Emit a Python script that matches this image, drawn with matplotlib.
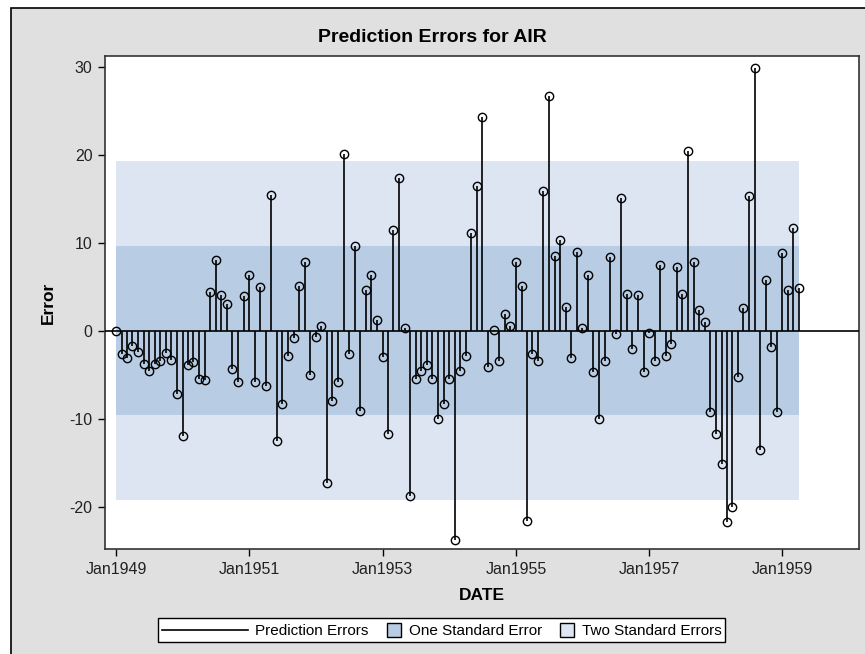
import matplotlib
matplotlib.use("Agg")
import matplotlib.pyplot as plt
import matplotlib.dates as mdates
from matplotlib.patches import Rectangle, Patch
from matplotlib.lines import Line2D
from matplotlib.legend_handler import HandlerLine2D, HandlerPatch
import pandas as pd
import numpy as np

plt.rcParams['font.family'] = ['Liberation Sans', 'DejaVu Sans']
plt.rcParams['axes.unicode_minus'] = False

start_month = "1949-01-01"
errors = [
    -0.1, -2.65, -3.15, -1.8, -2.4, -3.8, -4.55, -3.8, -3.4, -2.55, -3.3, -7.25,
    -12.0, -3.9, -3.6, -5.45, -5.6, 4.4, 8.05, 4.0, 3.0, -4.4, -5.8, 3.9,
    6.35, -5.8, 4.95, -6.35, 15.4, -12.5, -8.35, -2.85, -0.85, 5.1, 7.75, -5.0,
    -0.75, 0.5, -17.3, -7.95, -5.8, 20.1, -2.65, 9.6, -9.15, 4.65, 6.35, 1.15,
    -3.0, -11.7, 11.4, 17.3, 0.25, -18.85, -5.45, -4.55, -3.9, -5.45, -10.1, -8.35,
    -5.45, -23.8, -4.55, -2.85, 11.1, 16.4, 24.3, -4.15, 0.1, -3.5, 1.9, 0.5,
    7.85, 5.1, -21.6, -2.65, -3.5, 15.9, 26.6, 8.5, 10.3, 2.65, -3.15, 8.95,
    0.25, 6.35, -4.75, -10.1, -3.5, 8.35, -0.4, 15.1, 4.2, -2.1, 4.05, -4.75,
    -0.25, -3.5, 7.4, -2.85, -1.5, 7.25, 4.2, 20.4, 7.85, 2.35, 0.95, -9.3,
    -11.7, -15.2, -21.7, -20.1, -5.3, 2.55, 15.3, 29.8, -13.6, 5.75, -1.9, -9.3,
    8.85, 4.65, 11.7, 4.85,
]
one_std_error = 9.57
two_std_errors = 19.27
ytick_values = [-20, -10, 0, 10, 20, 30]
xtick_labels = ["Jan1949", "Jan1951", "Jan1953", "Jan1955", "Jan1957", "Jan1959"]
legend_labels = ["Prediction Errors", "One Standard Error", "Two Standard Errors"]

dates = pd.date_range(start_month, periods=len(errors), freq="MS")
err = np.array(errors)

W, H = 865, 654
fig = plt.figure(figsize=(W / 100, H / 100), dpi=100, facecolor="white")
# gray panel with border on left and top
fig.patches.append(Rectangle((10.5 / W, -0.05), 1.2, (H - 8.3) / H + 0.05,
                             transform=fig.transFigure, facecolor="#E0E0E0",
                             edgecolor="black", linewidth=1.2, zorder=-10))

ax = fig.add_axes([105 / W, 1 - 549.3 / H, (859.3 - 105) / W, (549.3 - 56) / H])
ax.set_facecolor("white")

light = "#DCE5F1"
dark = "#B8CCE4"
ax.fill_between(dates, -two_std_errors, two_std_errors, color=light, lw=0, zorder=1)
ax.fill_between(dates, -one_std_error, one_std_error, color=dark, lw=0, zorder=2)
ax.axhline(0, color="black", lw=1.2, zorder=3)
ax.vlines(dates, 0, err, color="black", lw=1.2, zorder=4)
ax.plot(dates, err, ls="none", marker="o", ms=6, mfc="none", mec="black",
        mew=1.0, zorder=5)

ax.set_ylim(-24.85, 31.2)
xmin = mdates.date2num(pd.Timestamp("1949-01-01")) - 1.98 * 30.44
xmax = mdates.date2num(pd.Timestamp("1949-01-01")) + 133.8 * 30.44
ax.set_xlim(xmin, xmax)

tick_dates = pd.to_datetime([f"{y}-01-01" for y in range(1949, 1960, 2)])
ax.set_xticks(tick_dates)
ax.set_xticklabels(xtick_labels)
ax.set_yticks(ytick_values)
ax.tick_params(axis="both", direction="out", length=5, width=1, color="black",
               labelsize=11.5, labelcolor="#222222", pad=4)
ax.tick_params(top=False, right=False)
for s in ax.spines.values():
    s.set_color("#333333")
    s.set_linewidth(1.2)

ax.set_xlabel("DATE", fontsize=12.5, fontweight="bold", labelpad=8)
ax.set_ylabel("Error", fontsize=12.5, fontweight="bold", labelpad=10)
fig.text(432.5 / W, 1 - 37 / H, "Prediction Errors for AIR", ha="center",
         va="center", fontsize=14, fontweight="bold")


class LongLineHandler(HandlerLine2D):
    def legend_artist(self, legend, orig_handle, fontsize, handlebox):
        handlebox.width = 62
        handlebox.height = 10
        line = Line2D([0, 62], [4, 4], color="black", lw=1.2)
        handlebox.add_artist(line)
        return line


class SquareHandler(HandlerPatch):
    def legend_artist(self, legend, orig_handle, fontsize, handlebox):
        handlebox.width = 10
        r = Rectangle((0, -1), 10, 10, facecolor=orig_handle.get_facecolor(),
                      edgecolor="black", lw=1.0)
        handlebox.add_artist(r)
        return r


h_line = Line2D([], [], color="black", lw=1.2)
h_one = Patch(facecolor=dark, edgecolor="black")
h_two = Patch(facecolor=light, edgecolor="black")
leg = fig.legend([h_line, h_one, h_two], legend_labels, ncol=3,
                 loc="center", bbox_to_anchor=(441.5 / W, 1 - 630 / H),
                 fontsize=11, frameon=True, fancybox=False,
                 edgecolor="black", facecolor="white", framealpha=1,
                 handler_map={Line2D: LongLineHandler(), Patch: SquareHandler()},
                 handletextpad=0.5, columnspacing=1.2, borderpad=0.25,
                 borderaxespad=0)
leg.get_frame().set_linewidth(1.0)

fig.savefig("out.png", dpi=100, facecolor="white")
